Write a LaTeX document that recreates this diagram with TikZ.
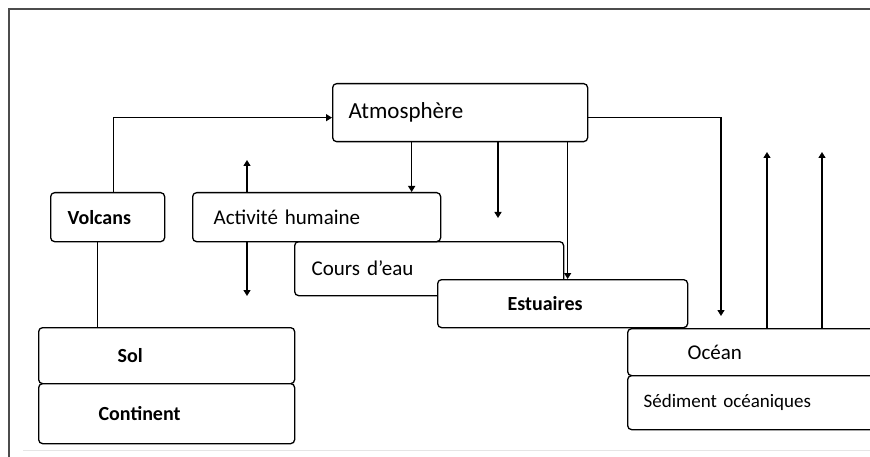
\documentclass[tikz,border=0pt]{standalone}
\usepackage{fontspec}
\setmainfont{Carlito}
\usetikzlibrary{arrows.meta}

\begin{document}
\begin{tikzpicture}[x=1pt,y=-1pt,
        bloc/.style={draw, fill=white, rounded corners=4pt, anchor=north west,
                     align=left, inner ysep=0pt, line width=1.3pt,
                     font=\fontsize{21}{25}\selectfont},
        gras/.style={font=\fontsize{20}{24}\selectfont\bfseries},
        fleche/.style={line width=1.4pt, -{Triangle[length=6pt,width=7pt]}},
        trait/.style={line width=1.4pt}]
        \clip (0,0) rectangle (870,457);

        % the frame of the figure
        \draw[line width=1.2pt, black!70] (9,457) -- (9,9) -- (870,9);
        \draw[line width=1pt, black!10] (23,450) -- (870,450);

        % the boxes
        \node[bloc, minimum height=58pt, text width=223pt, inner xsep=16pt,
              font=\fontsize{23}{27}\selectfont] (atmo) at (332,83) {Atmosphère};
        \node[bloc, gras, minimum height=49pt, text width=80pt, inner xsep=17pt] (volc) at (50,192) {Volcans};
        \node[bloc, minimum height=54pt, text width=235pt, inner xsep=17pt] (cours) at (294,241) {Cours d’eau};
        \node[bloc, minimum height=49pt, text width=206pt, inner xsep=21pt] (activ) at (192,192) {Activité humaine};
        \node[bloc, gras, minimum height=48pt, text width=110pt, inner xsep=70pt] (estu) at (437,279) {Estuaires};
        \node[bloc, minimum height=47pt, text width=148pt, inner xsep=60pt] (ocean) at (627,328) {Océan};
        \node[bloc, minimum height=54pt, text width=236pt, inner xsep=16pt,
              font=\fontsize{19}{23}\selectfont] (sedim) at (627,375) {Sédiment océaniques};
        \node[bloc, gras, minimum height=56pt, text width=98pt, inner xsep=79pt] (sol) at (38,327) {Sol};
        \node[bloc, gras, minimum height=60pt, text width=136pt, inner xsep=60pt] (cont) at (38,383) {Continent};

        % the free ends of the arrows
        \coordinate (haut1) at (247,160);
        \coordinate (bas1) at (247,296);
        \coordinate (bas2) at (498,218);
        \coordinate (haut2) at (767,152);
        \coordinate (haut3) at (822,152);

        % draw the arrows
        \draw[fleche] ([xshift=6pt]volc.north) |- ([yshift=-5pt]atmo.west);
        \draw[trait] ([xshift=-10pt]volc.south) -- ([xshift=-10pt]volc.south |- sol.north);
        \draw[fleche] (activ.north -| haut1) -- (haut1);
        \draw[fleche] (activ.south -| bas1) -- (bas1);
        \draw[fleche] ([xshift=-48.5pt]atmo.south) -- ([xshift=-48.5pt]atmo.south |- activ.north);
        \draw[fleche] (atmo.south -| bas2) -- (bas2);
        \draw[fleche] ([xshift=107.5pt]atmo.south) -- ([xshift=107.5pt]atmo.south |- estu.north);
        \draw[fleche] ([yshift=-5pt]atmo.east) -| ([shift={(94pt,12pt)}]ocean.north west);
        \draw[fleche] (ocean.north -| haut2) -- (haut2);
        \draw[fleche] (ocean.north -| haut3) -- (haut3);

    \end{tikzpicture}
\end{document}
